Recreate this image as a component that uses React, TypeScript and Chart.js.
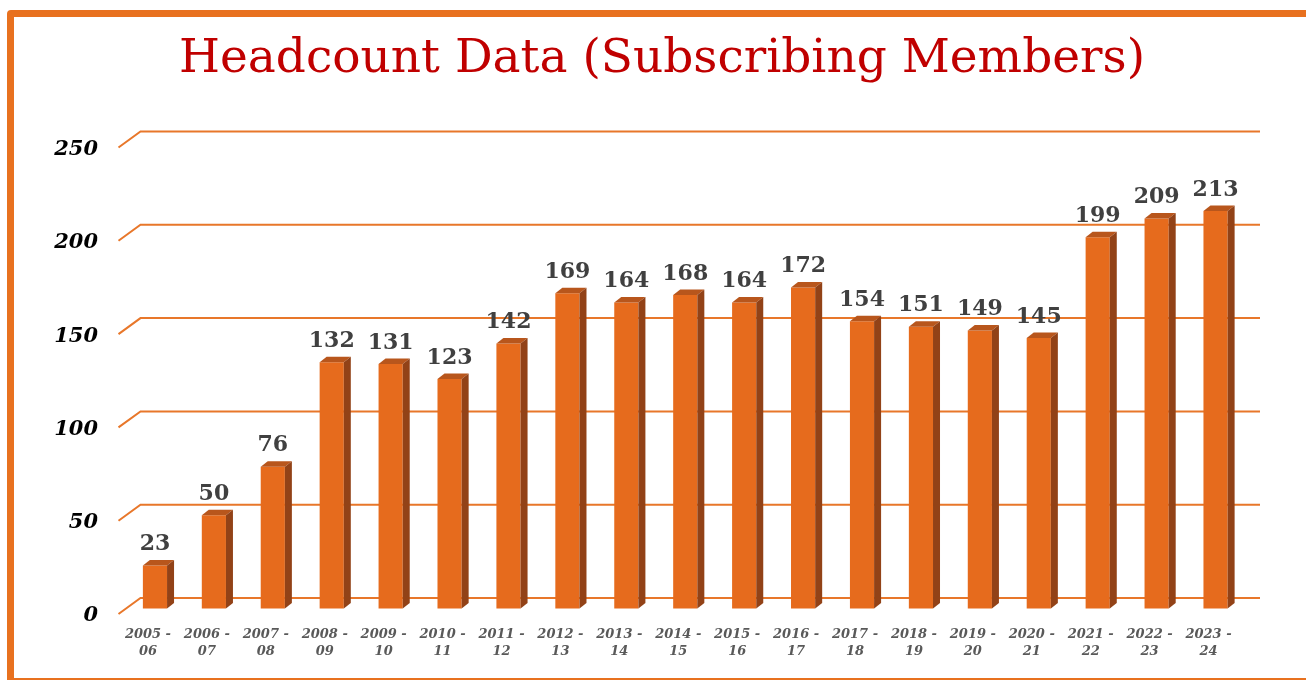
import React, { useEffect, useRef } from "react";
import { Chart, registerables } from "chart.js";

Chart.register(...registerables);

const seasonStarts = ["2005", "2006", "2007", "2008", "2009", "2010", "2011", "2012", "2013", "2014", "2015", "2016", "2017", "2018", "2019", "2020", "2021", "2022", "2023"];
const seasonEnds = ["06", "07", "08", "09", "10", "11", "12", "13", "14", "15", "16", "17", "18", "19", "20", "21", "22", "23", "24"];
const members = [23, 50, 76, 132, 131, 123, 142, 169, 164, 168, 164, 172, 154, 151, 149, 145, 199, 209, 213];
const yTicks = [0, 50, 100, 150, 200, 250];
const titleText = "Headcount Data (Subscribing Members)";

const FRONT = "#E66B1D";
const TOP = "#B8561C";
const SIDE = "#924217";
const GRID = "#E8772A";
const DX = 7;
const DY = -5.5;
const WALL_DX = 22;
const WALL_DY = -16;

const bar3d = {
  id: "bar3d",
  beforeDatasetsDraw(chart: any) {
    const { ctx, chartArea, scales } = chart;
    const ys = scales.y;
    ctx.save();
    ctx.strokeStyle = GRID;
    ctx.lineWidth = 2;
    for (const v of yTicks) {
      const y = ys.getPixelForValue(v);
      ctx.beginPath();
      ctx.moveTo(chartArea.left, y);
      ctx.lineTo(chartArea.left + WALL_DX, y + WALL_DY);
      ctx.lineTo(chartArea.right + WALL_DX, y + WALL_DY);
      ctx.stroke();
    }
    ctx.restore();
    ctx.save();
    ctx.translate(DX, DY);
  },
  afterDatasetsDraw(chart: any) {
    const { ctx } = chart;
    const meta = chart.getDatasetMeta(0);
    meta.data.forEach((el: any, i: number) => {
      const w = el.width;
      const l = el.x - w / 2;
      const r = el.x + w / 2;
      const t = el.y;
      const b = el.base;
      ctx.fillStyle = TOP;
      ctx.beginPath();
      ctx.moveTo(l, t);
      ctx.lineTo(l + DX, t + DY);
      ctx.lineTo(r + DX, t + DY);
      ctx.lineTo(r, t);
      ctx.closePath();
      ctx.fill();
      ctx.fillStyle = SIDE;
      ctx.beginPath();
      ctx.moveTo(r, t);
      ctx.lineTo(r + DX, t + DY);
      ctx.lineTo(r + DX, b + DY);
      ctx.lineTo(r, b);
      ctx.closePath();
      ctx.fill();
      ctx.fillStyle = "#404040";
      ctx.font = "bold 22px 'DejaVu Serif'";
      ctx.textAlign = "center";
      ctx.textBaseline = "middle";
      ctx.fillText(String(members[i]), el.x, t - 21);
    });
    ctx.restore();
  },
  afterDraw(chart: any) {
    const { ctx } = chart;
    ctx.save();
    ctx.fillStyle = "#C00000";
    ctx.font = "47px 'DejaVu Serif'";
    ctx.textAlign = "center";
    ctx.textBaseline = "middle";
    ctx.fillText(titleText, 662, 60);
    ctx.restore();
  },
};

export default function App() {
  const ref = useRef<HTMLCanvasElement>(null);
  useEffect(() => {
    const canvas = ref.current!;
    const chart = new Chart(canvas, {
      type: "bar",
      data: {
        labels: seasonStarts.map((s, i) => [s + " -", seasonEnds[i]]),
        datasets: [
          {
            data: members,
            backgroundColor: FRONT,
            borderWidth: 0,
            barPercentage: 0.41,
            categoryPercentage: 1,
            clip: false as any,
          },
        ],
      },
      options: {
        responsive: false,
        animation: false,
        layout: { padding: { left: 0, right: 68, top: 147.5, bottom: 0 } },
        plugins: {
          legend: { display: false },
          tooltip: { enabled: false },
          title: { display: false },
        },
        scales: {
          x: {
            grid: { display: false, drawTicks: false },
            border: { display: false },
            ticks: {
              autoSkip: false,
              maxRotation: 0,
              minRotation: 0,
              padding: 12.5,
              color: "#595959",
              font: { family: "'DejaVu Serif'", size: 13, weight: "bold", style: "italic", lineHeight: 1.3 },
            },
            afterFit(scale: any) {
              scale.height = 66;
            },
          },
          y: {
            min: 0,
            max: 250,
            grid: { display: false, drawTicks: false },
            border: { display: false },
            ticks: {
              stepSize: 50,
              padding: 20.5,
              labelOffset: 2,
              color: "#000000",
              font: { family: "'DejaVu Serif'", size: 21, weight: "bold", style: "italic" },
            },
            afterFit(scale: any) {
              scale.width = 118.5;
            },
          },
        },
      },
      plugins: [bar3d],
    });
    return () => chart.destroy();
  }, []);

  return (
    <div style={{ position: "fixed", left: 0, top: 0, width: 1306, height: 680, overflow: "hidden", background: "#fff" }}>
      <div
        style={{
          position: "absolute",
          left: 7,
          top: 10,
          width: 1330,
          height: 675,
          boxSizing: "border-box",
          border: "7px solid #E8711F",
          borderRadius: 4,
        }}
      />
      <canvas ref={ref} width={1306} height={680} style={{ position: "absolute", left: 0, top: 0, width: 1306, height: 680 }} />
    </div>
  );
}
